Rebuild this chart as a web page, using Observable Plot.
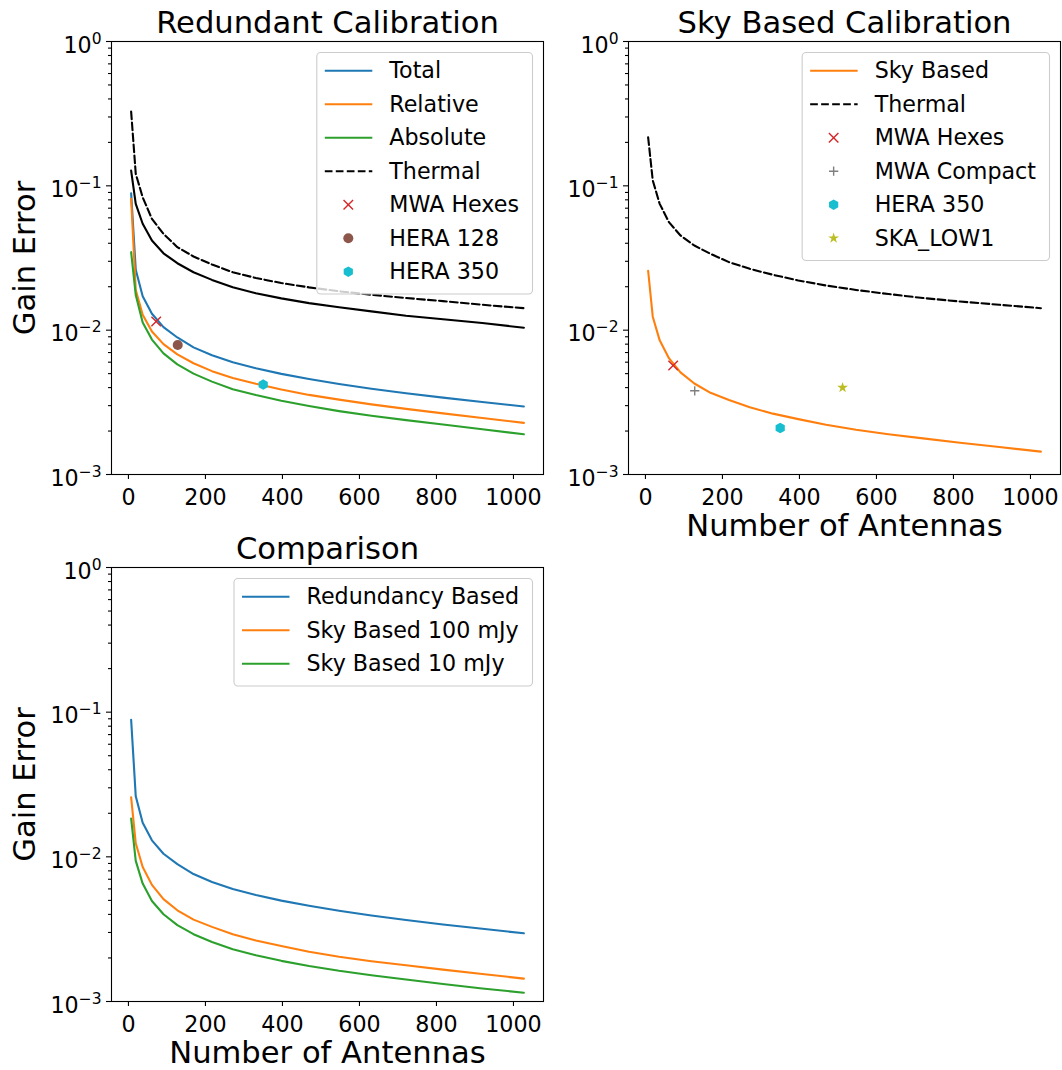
<!DOCTYPE html>
<html>
<head>
<meta charset="utf-8">
<script src="https://cdn.jsdelivr.net/npm/d3@7"></script>
<script src="https://cdn.jsdelivr.net/npm/@observablehq/plot@0.6"></script>
<style>
  body { margin: 0; background: #fff; }
  #fig { position: relative; width: 1062px; height: 1070px; overflow: hidden; font-family: "DejaVu Sans"; }
  #fig svg { position: absolute; overflow: visible; }
</style>
</head>
<body>
<div id="fig"></div>
<script>
// Hexagonal array sizes (number of antennas)
const antennas = [7, 19, 37, 61, 91, 127, 169, 217, 271, 331, 397, 469, 547, 631, 721, 817, 919, 1027];

// Redundant calibration gain errors
const totalErr = [0.0886, 0.0262, 0.0172, 0.0130, 0.0105, 0.0089, 0.0076, 0.0067, 0.0060, 0.00545, 0.00498, 0.00459, 0.00424, 0.00393, 0.00366, 0.00341, 0.00318, 0.00296];
const relativeErr = [0.0813, 0.0190, 0.0128, 0.0098, 0.0080, 0.0068, 0.0059, 0.0052, 0.00467, 0.00425, 0.00388, 0.00356, 0.0033, 0.00306, 0.00285, 0.00265, 0.00246, 0.00228];
const absoluteErr = [0.0347, 0.0175, 0.0113, 0.0086, 0.0069, 0.0058, 0.0050, 0.0044, 0.0039, 0.00355, 0.00324, 0.00298, 0.00275, 0.00255, 0.00238, 0.00222, 0.00206, 0.0019];
const thermalFloor = [0.1276, 0.0750, 0.0546, 0.0418, 0.0341, 0.0291, 0.0252, 0.0223, 0.0198, 0.0180, 0.0166, 0.0154, 0.0144, 0.0135, 0.0126, 0.0119, 0.0112, 0.0104];
const thermalRedundant = [0.327, 0.121, 0.0833, 0.0590, 0.0465, 0.0376, 0.0324, 0.0285, 0.0252, 0.0230, 0.0212, 0.0198, 0.0186, 0.0176, 0.0167, 0.0159, 0.0150, 0.0142];

// Sky based calibration gain errors
const skyErr100 = [0.0258, 0.0124, 0.0085, 0.0064, 0.0051, 0.00427, 0.00368, 0.00328, 0.00292, 0.00264, 0.00242, 0.00221, 0.00204, 0.0019, 0.00178, 0.00166, 0.00155, 0.00144];
const skyErr10 = [0.0184, 0.00938, 0.00653, 0.00495, 0.00401, 0.00337, 0.00292, 0.00258, 0.0023, 0.00209, 0.00191, 0.00176, 0.00163, 0.00152, 0.00142, 0.00132, 0.00123, 0.00115];
const thermalSky = [0.217, 0.109, 0.075, 0.056, 0.0453, 0.0386, 0.0338, 0.0296, 0.0266, 0.0242, 0.0221, 0.0204, 0.019, 0.0178, 0.0167, 0.0158, 0.015, 0.0142];

// Existing arrays
const redArrays = ["MWA Hexes", "HERA 128", "HERA 350"];
const redArrayN = [72, 128, 350];
const redArrayErr = [0.0115, 0.0079, 0.0042];

const skyArrays = ["MWA Hexes", "MWA Compact", "HERA 350", "SKA_LOW1"];
const skyArrayN = [72, 128, 350, 512];
const skyArrayErr = [0.0057, 0.0038, 0.0021, 0.0040];

// Axis ticks
const xTicks = [0, 200, 400, 600, 800, 1000];
const yMajor = [1e-3, 1e-2, 1e-1, 1];
const yMinor = [1e-3, 1e-2, 1e-1].flatMap(d => [2, 3, 4, 5, 6, 7, 8, 9].map(m => m * d));

const C = {
  blue: "#1f77b4", orange: "#ff7f0e", green: "#2ca02c", red: "#d62728",
  brown: "#8c564b", gray: "#7f7f7f", olive: "#bcbd22", cyan: "#17becf"
};
const markerStyle = {
  "MWA Hexes": {symbol: "times", color: C.red, r: 4.4},
  "HERA 128": {symbol: "circle", color: C.brown, r: 5},
  "HERA 350": {symbol: "hexagon", color: C.cyan, r: 4.6},
  "MWA Compact": {symbol: "plus", color: C.gray, r: 3.1},
  "SKA_LOW1": {symbol: "star", color: C.olive, r: 3.4}
};
const strokeOnly = new Set(["times", "plus"]);
const LW = 2.1, DASH = "7.7,3.3";
const TICK_FONT = 22.2, LABEL_FONT = 30.6;

const series = (ys) => antennas.map((n, i) => ({n, v: ys[i]}));
const points = (names, ns, vs) => names.map((name, i) => ({name, n: ns[i], v: vs[i]}));

function lineMark(ys, color, dash) {
  return Plot.line(series(ys), {x: "n", y: "v", stroke: color, strokeWidth: LW, strokeDasharray: dash});
}
function dotMarks(pts) {
  return pts.map(p => {
    const s = markerStyle[p.name];
    const so = strokeOnly.has(s.symbol);
    return Plot.dot([p], {
      x: "n", y: "v", symbol: () => s.symbol, r: s.r,
      fill: so ? "none" : s.color, stroke: so ? s.color : "none", strokeWidth: 1.4
    });
  });
}

function panel({width, height, margin, title, xLabel, yLabel, marks}) {
  const [mt, mr, mb, ml] = margin;
  return Plot.plot({
    width, height,
    marginTop: mt, marginRight: mr, marginBottom: mb, marginLeft: ml,
    style: {fontFamily: "DejaVu Sans", fontSize: TICK_FONT + "px", color: "black", background: "none", overflow: "visible"},
    x: {domain: [-44, 1078]},
    y: {type: "log", domain: [1e-3, 1]},
    marks: [
      ...marks,
      Plot.axisX(xTicks, {anchor: "bottom", tickSize: 5, tickPadding: 9.5, strokeWidth: 1.1, tickFormat: d => String(d), label: null}),
      Plot.axisY(yMinor, {anchor: "left", tickSize: 3, strokeWidth: 1.1, tickFormat: () => "", label: null}),
      Plot.axisY(yMajor, {anchor: "left", tickSize: 5, tickPadding: 5, strokeWidth: 1.1, tickFormat: d => "10^" + Math.round(Math.log10(d)), label: null}),
      Plot.frame({stroke: "black", strokeWidth: 1.1}),
      Plot.text([title], {text: d => d, frameAnchor: "top", dy: -8.3, lineAnchor: "bottom", textAnchor: "middle", fontSize: LABEL_FONT}),
      xLabel ? Plot.text([xLabel], {text: d => d, frameAnchor: "bottom", dy: 61, lineAnchor: "bottom", textAnchor: "middle", fontSize: LABEL_FONT}) : null,
      yLabel ? Plot.text([yLabel], {text: d => d, frameAnchor: "left", dx: -86, rotate: -90, lineAnchor: "middle", textAnchor: "middle", fontSize: LABEL_FONT}) : null
    ]
  });
}

const SVGNS = "http://www.w3.org/2000/svg";
function superscriptTicks(svg) {
  svg.querySelectorAll('g[aria-label="y-axis tick label"] text').forEach(t => {
    const s = t.textContent;
    if (!s.includes("^")) return;
    const [base, exp] = s.split("^");
    t.textContent = "";
    t.setAttribute("y", "0.5em");
    const b = document.createElementNS(SVGNS, "tspan");
    b.textContent = base;
    const e = document.createElementNS(SVGNS, "tspan");
    e.textContent = exp.replace("-", "\u2212");
    e.setAttribute("dy", "-9");
    e.setAttribute("font-size", "15.5px");
    t.appendChild(b);
    t.appendChild(e);
  });
}

const hexagonSymbol = {
  draw(context, size) {
    const rx = Math.sqrt(size / Math.PI), ry = rx * 2 / Math.sqrt(3), hy = ry / 2;
    context.moveTo(0, ry); context.lineTo(rx, hy); context.lineTo(rx, -hy);
    context.lineTo(0, -ry); context.lineTo(-rx, -hy); context.lineTo(-rx, hy); context.closePath();
  }
};
const d3Symbols = {times: d3.symbolTimes, plus: d3.symbolPlus, circle: d3.symbolCircle, star: d3.symbolStar, hexagon: hexagonSymbol};

function legend(svg, items, frameRight, frameTop) {
  const g = d3.select(svg).append("g")
    .attr("font-family", "DejaVu Sans").attr("font-size", TICK_FONT).attr("text-anchor", "start");
  const box = g.append("rect");
  const rowH = 33.5, first = 18.7;
  items.forEach((it, i) => {
    const y = first + i * rowH;
    if (it.line) {
      g.append("line").attr("x1", 8.5).attr("x2", 56).attr("y1", y).attr("y2", y)
        .attr("stroke", it.color).attr("stroke-width", LW).attr("stroke-dasharray", it.dash || null);
    } else {
      const s = markerStyle[it.label];
      const so = strokeOnly.has(s.symbol);
      g.append("path").attr("transform", `translate(32,${y})`)
        .attr("d", d3.symbol(d3Symbols[s.symbol], Math.PI * s.r * s.r)())
        .attr("fill", so ? "none" : s.color).attr("stroke", so ? s.color : "none").attr("stroke-width", 1.4);
    }
    g.append("text").attr("x", 73).attr("y", y).attr("dy", "0.35em")
      .attr("text-anchor", "start").attr("fill", "black").text(it.label);
  });
  const maxW = d3.max(g.selectAll("text").nodes(), n => n.getComputedTextLength());
  const w = 73 + maxW + 13, h = items.length * rowH + 7;
  box.attr("x", 0.5).attr("y", 0.5).attr("width", w).attr("height", h).attr("rx", 4)
    .attr("fill", "white").attr("fill-opacity", 0.8).attr("stroke", "#cccccc").attr("stroke-width", 1.1);
  g.attr("transform", `translate(${frameRight - 11 - w},${frameTop + 11})`);
}

const fig = document.getElementById("fig");
function place(svg, left, top) {
  svg.style.left = left + "px";
  svg.style.top = top + "px";
  fig.appendChild(svg);
  superscriptTicks(svg);
}

// Redundant calibration
const p1 = panel({
  width: 560, height: 520, margin: [41, 17, 46, 111],
  title: "Redundant Calibration", yLabel: "Gain Error",
  marks: [
    lineMark(thermalFloor, "black"),
    lineMark(thermalRedundant, "black", DASH),
    lineMark(totalErr, C.blue),
    lineMark(relativeErr, C.orange),
    lineMark(absoluteErr, C.green),
    ...dotMarks(points(redArrays, redArrayN, redArrayErr))
  ]
});
place(p1, 0, 0);
legend(p1, [
  {label: "Total", line: true, color: C.blue},
  {label: "Relative", line: true, color: C.orange},
  {label: "Absolute", line: true, color: C.green},
  {label: "Thermal", line: true, color: "black", dash: DASH},
  ...redArrays.map(label => ({label}))
], 560 - 17, 41);

// Sky based calibration
const p2 = panel({
  width: 502, height: 560, margin: [41, 2, 86, 68],
  title: "Sky Based Calibration", xLabel: "Number of Antennas",
  marks: [
    lineMark(skyErr100, C.orange),
    lineMark(thermalSky, "black", DASH),
    ...dotMarks(points(skyArrays, skyArrayN, skyArrayErr))
  ]
});
place(p2, 560, 0);
legend(p2, [
  {label: "Sky Based", line: true, color: C.orange},
  {label: "Thermal", line: true, color: "black", dash: DASH},
  ...skyArrays.map(label => ({label}))
], 502 - 2, 41);

// Comparison
const p3 = panel({
  width: 560, height: 550, margin: [47, 17, 69, 111],
  title: "Comparison", xLabel: "Number of Antennas", yLabel: "Gain Error",
  marks: [
    lineMark(totalErr, C.blue),
    lineMark(skyErr100, C.orange),
    lineMark(skyErr10, C.green)
  ]
});
place(p3, 0, 520);
legend(p3, [
  {label: "Redundancy Based", line: true, color: C.blue},
  {label: "Sky Based 100 mJy", line: true, color: C.orange},
  {label: "Sky Based 10 mJy", line: true, color: C.green}
], 560 - 17, 47);
</script>
</body>
</html>
